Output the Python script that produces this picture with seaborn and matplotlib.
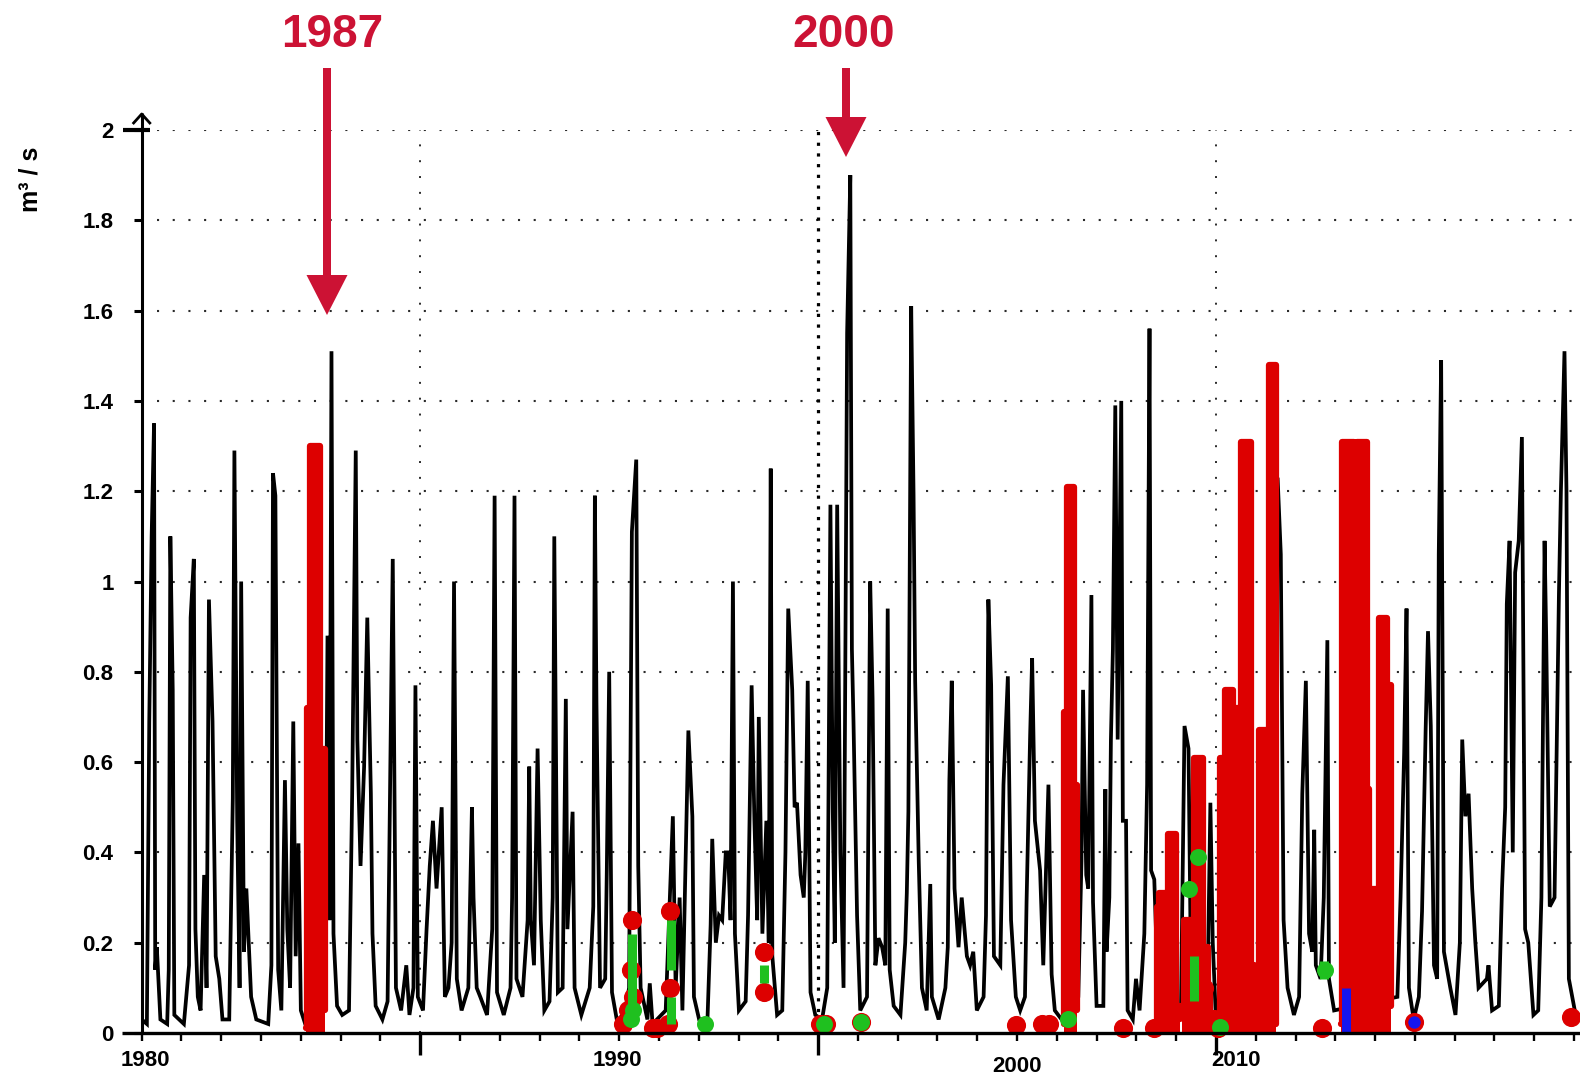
import matplotlib
matplotlib.use("Agg")
import matplotlib.pyplot as plt
import seaborn as sns
import numpy as np
import pandas as pd
from matplotlib.patches import Polygon
from matplotlib.lines import Line2D

# ---------------- data ----------------
flow_1980s = [
    (1980.00, 0.03), (1980.13, 0.02), (1980.19, 0.69), (1980.25, 1.10), (1980.31, 1.35), (1980.34, 0.14),
    (1980.38, 0.19), (1980.47, 0.03), (1980.64, 0.02), (1980.68, 0.14), (1980.72, 1.10), (1980.78, 0.76),
    (1980.82, 0.04), (1981.06, 0.02), (1981.19, 0.15), (1981.23, 0.92), (1981.31, 1.05), (1981.35, 0.23),
    (1981.41, 0.08), (1981.48, 0.05), (1981.57, 0.35), (1981.63, 0.10), (1981.69, 0.96), (1981.78, 0.69),
    (1981.86, 0.17), (1981.95, 0.12), (1982.03, 0.03), (1982.20, 0.03), (1982.29, 0.52), (1982.33, 1.29),
    (1982.40, 0.47), (1982.46, 0.10), (1982.50, 1.00), (1982.57, 0.18), (1982.63, 0.32), (1982.69, 0.20),
    (1982.75, 0.08), (1982.88, 0.03), (1983.18, 0.02), (1983.26, 0.15), (1983.30, 1.24), (1983.36, 1.19),
    (1983.43, 0.14), (1983.51, 0.05), (1983.60, 0.56), (1983.66, 0.23), (1983.73, 0.10), (1983.81, 0.69),
    (1983.87, 0.17), (1983.94, 0.42), (1984.00, 0.05), (1984.11, 0.02), (1984.61, 0.10), (1984.67, 0.88),
    (1984.72, 0.25), (1984.77, 1.51), (1984.82, 0.22), (1984.91, 0.06), (1985.04, 0.04), (1985.21, 0.05),
    (1985.29, 0.53), (1985.38, 1.29), (1985.42, 0.65), (1985.50, 0.37), (1985.59, 0.59), (1985.67, 0.92),
    (1985.76, 0.53), (1985.80, 0.22), (1985.88, 0.06), (1986.05, 0.03), (1986.18, 0.07), (1986.31, 1.05),
    (1986.39, 0.10), (1986.52, 0.05), (1986.65, 0.15), (1986.73, 0.04), (1986.83, 0.10), (1986.88, 0.77),
    (1986.94, 0.08), (1987.07, 0.05), (1987.16, 0.23), (1987.24, 0.37), (1987.32, 0.47), (1987.41, 0.32),
    (1987.54, 0.50), (1987.62, 0.08), (1987.71, 0.10), (1987.79, 0.20), (1987.85, 1.00), (1987.92, 0.12),
    (1988.04, 0.05), (1988.21, 0.10), (1988.30, 0.50), (1988.34, 0.30), (1988.42, 0.10), (1988.51, 0.08),
    (1988.68, 0.04), (1988.81, 0.23), (1988.87, 1.19), (1988.93, 0.09), (1989.10, 0.04), (1989.27, 0.10),
    (1989.31, 0.30), (1989.37, 1.19), (1989.42, 0.12), (1989.57, 0.08), (1989.70, 0.25), (1989.74, 0.59),
    (1989.78, 0.25), (1989.86, 0.15), (1989.95, 0.63), (1990.03, 0.25), (1990.12, 0.05), (1990.25, 0.07),
    (1990.33, 0.30), (1990.37, 1.10), (1990.46, 0.09), (1990.58, 0.10), (1990.66, 0.74), (1990.70, 0.23),
    (1990.83, 0.49), (1990.88, 0.10), (1991.05, 0.04), (1991.26, 0.10), (1991.35, 0.28), (1991.39, 1.19),
    (1991.43, 0.73), (1991.52, 0.10), (1991.65, 0.12), (1991.69, 0.36), (1991.75, 0.80), (1991.82, 0.09),
    (1991.94, 0.03),
]
flow_1990s = [
    (1992.00, 0.03), (1992.15, 0.05), (1992.25, 0.10), (1992.32, 1.11), (1992.43, 1.27), (1992.48, 0.37),
    (1992.54, 0.10), (1992.71, 0.03), (1992.77, 0.11), (1992.84, 0.02), (1993.17, 0.05), (1993.35, 0.48),
    (1993.42, 0.10), (1993.52, 0.30), (1993.59, 0.05), (1993.74, 0.67), (1993.84, 0.48), (1993.88, 0.08),
    (1994.01, 0.03), (1994.22, 0.03), (1994.30, 0.24), (1994.34, 0.43), (1994.43, 0.20), (1994.51, 0.26),
    (1994.59, 0.25), (1994.68, 0.40), (1994.74, 0.40), (1994.80, 0.25), (1994.86, 1.00), (1994.91, 0.22),
    (1995.01, 0.05), (1995.18, 0.07), (1995.24, 0.26), (1995.33, 0.77), (1995.40, 0.47), (1995.47, 0.25),
    (1995.51, 0.70), (1995.60, 0.22), (1995.70, 0.47), (1995.76, 0.20), (1995.81, 1.25), (1995.85, 0.17),
    (1995.97, 0.04), (1996.10, 0.05), (1996.18, 0.40), (1996.25, 0.94), (1996.35, 0.76), (1996.41, 0.50),
    (1996.47, 0.51), (1996.56, 0.35), (1996.64, 0.30), (1996.68, 0.40), (1996.74, 0.78), (1996.81, 0.09),
    (1996.93, 0.04), (1997.10, 0.03), (1997.23, 0.10), (1997.31, 1.17), (1997.37, 0.49), (1997.42, 0.20),
    (1997.48, 1.17), (1997.56, 0.40), (1997.64, 0.10), (1997.73, 1.55), (1997.81, 1.90), (1997.85, 0.85),
    (1997.89, 0.69), (1997.98, 0.26), (1998.06, 0.05), (1998.23, 0.08), (1998.31, 1.00), (1998.37, 0.74),
    (1998.44, 0.15), (1998.52, 0.21), (1998.61, 0.19), (1998.69, 0.15), (1998.75, 0.94), (1998.80, 0.14),
    (1998.90, 0.06), (1999.07, 0.04), (1999.19, 0.20), (1999.23, 0.31), (1999.27, 0.49), (1999.34, 1.61),
    (1999.40, 1.19), (1999.44, 0.78), (1999.53, 0.38), (1999.61, 0.10), (1999.73, 0.05), (1999.82, 0.33),
    (1999.86, 0.08), (2000.03, 0.03), (2000.20, 0.10), (2000.26, 0.19), (2000.30, 0.56), (2000.36, 0.78),
    (2000.43, 0.32), (2000.53, 0.19), (2000.61, 0.30), (2000.74, 0.17), (2000.82, 0.15), (2000.90, 0.18),
    (2000.99, 0.05), (2001.16, 0.08), (2001.22, 0.26), (2001.28, 0.96), (2001.35, 0.77), (2001.42, 0.17),
    (2001.50, 0.16), (2001.58, 0.15), (2001.66, 0.55), (2001.77, 0.79), (2001.85, 0.25), (2001.97, 0.08),
    (2002.08, 0.05), (2002.20, 0.08), (2002.24, 0.29), (2002.33, 0.66), (2002.38, 0.83), (2002.45, 0.47),
    (2002.58, 0.36), (2002.66, 0.15), (2002.79, 0.55), (2002.87, 0.13), (2002.95, 0.05), (2003.12, 0.03),
    (2003.54, 0.08), (2003.62, 0.38), (2003.66, 0.76), (2003.74, 0.35), (2003.79, 0.32), (2003.87, 0.97),
    (2003.91, 0.29), (2004.00, 0.06),
]
flow_2000s = [
    (2004.17, 0.06), (2004.22, 0.54), (2004.25, 0.18), (2004.32, 0.30), (2004.36, 0.65), (2004.41, 0.85),
    (2004.47, 1.39), (2004.53, 0.65), (2004.62, 1.40), (2004.66, 0.47), (2004.74, 0.47), (2004.78, 0.05),
    (2004.91, 0.03), (2004.99, 0.12), (2005.08, 0.05), (2005.20, 0.22), (2005.27, 0.55), (2005.33, 1.56),
    (2005.37, 0.36), (2005.45, 0.34), (2005.54, 0.10), (2006.12, 0.05), (2006.21, 0.68), (2006.31, 0.63),
    (2006.37, 0.15), (2006.62, 0.05), (2006.79, 0.10), (2006.86, 0.51), (2006.92, 0.20), (2007.00, 0.03),
    (2008.46, 0.05), (2008.50, 0.70), (2008.55, 1.23), (2008.63, 1.06), (2008.70, 0.25), (2008.80, 0.10),
    (2008.96, 0.04), (2009.09, 0.08), (2009.17, 0.53), (2009.26, 0.78), (2009.34, 0.22), (2009.42, 0.18),
    (2009.47, 0.45), (2009.51, 0.15), (2009.63, 0.12), (2009.71, 0.30), (2009.80, 0.87), (2009.84, 0.12),
    (2009.97, 0.05), (2011.56, 0.08), (2011.64, 0.30), (2011.73, 0.62), (2011.79, 0.94), (2011.85, 0.10),
    (2011.97, 0.03), (2012.10, 0.08), (2012.18, 0.27), (2012.27, 0.67), (2012.33, 0.89), (2012.40, 0.68),
    (2012.48, 0.15), (2012.56, 0.12), (2012.60, 1.06), (2012.66, 1.49), (2012.73, 0.18), (2012.89, 0.10),
    (2013.02, 0.04), (2013.13, 0.20), (2013.19, 0.65), (2013.27, 0.48), (2013.35, 0.53), (2013.44, 0.32),
    (2013.52, 0.20), (2013.60, 0.10), (2013.81, 0.12), (2013.85, 0.15), (2013.94, 0.05), (2014.11, 0.06),
    (2014.19, 0.32), (2014.27, 0.50), (2014.31, 0.95), (2014.38, 1.09), (2014.46, 0.40), (2014.52, 1.02),
    (2014.61, 1.09), (2014.69, 1.32), (2014.77, 0.23), (2014.85, 0.20), (2014.98, 0.04), (2015.10, 0.05),
    (2015.18, 0.30), (2015.26, 1.09), (2015.30, 0.88), (2015.39, 0.28), (2015.51, 0.30), (2015.62, 0.97),
    (2015.67, 1.20), (2015.76, 1.51), (2015.81, 1.20), (2015.87, 0.12), (2016.04, 0.04), (2016.20, 0.04),
]

# red (flagged) periods
red_1984 = [(1984.14, 0.01), (1984.16, 0.72), (1984.22, 0.72), (1984.23, 1.30), (1984.45, 1.30),
            (1984.47, 0.63), (1984.58, 0.63), (1984.60, 0.05)]
red_2003 = [(2003.17, 0.02), (2003.19, 0.71), (2003.24, 0.71), (2003.25, 1.21), (2003.43, 1.21),
            (2003.44, 0.55), (2003.48, 0.55), (2003.50, 0.05)]
red_2005 = [(2005.50, 0.02), (2005.53, 0.28), (2005.58, 0.31), (2005.75, 0.31), (2005.79, 0.44),
            (2005.95, 0.44), (2005.99, 0.06), (2006.10, 0.03)]
red_2006 = [(2006.15, 0.05), (2006.20, 0.25), (2006.30, 0.25), (2006.37, 0.12), (2006.45, 0.61),
            (2006.66, 0.61), (2006.68, 0.19), (2006.80, 0.10), (2006.85, 0.05)]
red_2007 = [(2007.05, 0.02), (2007.10, 0.61), (2007.20, 0.61), (2007.24, 0.76), (2007.40, 0.76),
            (2007.43, 0.72), (2007.60, 0.72), (2007.63, 1.31), (2007.84, 1.31), (2007.88, 0.15),
            (2007.95, 0.02), (2008.05, 0.02), (2008.08, 0.67), (2008.30, 0.67), (2008.33, 1.48),
            (2008.47, 1.48), (2008.50, 0.02)]
red_2010 = [(2010.14, 0.02), (2010.17, 1.31), (2010.45, 1.31), (2010.47, 0.79), (2010.52, 0.79),
            (2010.55, 1.31), (2010.76, 1.31), (2010.80, 0.54), (2010.85, 0.32), (2011.06, 0.32),
            (2011.10, 0.92), (2011.27, 0.92), (2011.30, 0.77), (2011.36, 0.77), (2011.40, 0.06)]
red_periods = [red_1984, red_2003, red_2005, red_2006, red_2007, red_2010]

red_dot_t = [1992.10, 1992.22, 1992.30, 1992.33, 1992.36, 1992.85, 1992.95, 1993.22, 1993.28, 1993.29,
             1995.64, 1995.64, 1997.05, 1997.20, 1998.07, 2001.97, 2002.62, 2002.80, 2004.66, 2005.45,
             2006.25, 2006.70, 2006.95, 2007.05, 2009.67, 2011.97, 2015.92]
red_dot_q = [0.02, 0.05, 0.14, 0.25, 0.08, 0.01, 0.01, 0.02, 0.10, 0.27,
             0.18, 0.09, 0.02, 0.02, 0.025, 0.017, 0.02, 0.02, 0.01, 0.01,
             0.05, 0.10, 0.03, 0.01, 0.01, 0.025, 0.035]

green_bar_t = [1992.33, 1993.30, 1993.30, 1995.64, 2006.45, 2009.72]
green_bar_lo = [0.03, 0.14, 0.02, 0.11, 0.07, 0.12]
green_bar_hi = [0.22, 0.25, 0.08, 0.15, 0.17, 0.16]
green_dot_t = [1992.30, 1992.35, 1994.16, 1997.15, 1998.07, 2003.27, 2006.32, 2006.55, 2007.10, 2009.73]
green_dot_q = [0.03, 0.05, 0.02, 0.02, 0.025, 0.03, 0.32, 0.39, 0.013, 0.14]

blue_bar_t = [2010.26]
blue_bar_lo = [0.0]
blue_bar_hi = [0.10]
blue_dot_t = [2011.97]
blue_dot_q = [0.025]

y_ticks = [0, 0.2, 0.4, 0.6, 0.8, 1.0, 1.2, 1.4, 1.6, 1.8, 2.0]
y_tick_labels = ["0", "0.2", "0.4", "0.6", "0.8", "1", "1.2", "1.4", "1.6", "1.8", "2"]
year_labels = ["1980", "1990", "2000", "2010"]
year_label_pos = [1980.1, 1991.95, 2002.0, 2007.5]
year_label_drop = [0, 0, 6, 0]
highlight_years = ["1987", "2000"]

# ---------------- style ----------------
sns.set_theme(style="white")
plt.rcParams["font.family"] = ["Liberation Sans", "DejaVu Sans"]
plt.rcParams["lines.scale_dashes"] = False

RED = "#DD0000"
GREEN = "#1FC01F"
BLUE = "#1515EE"
CRIMSON = "#CC1234"

W, H = 1580, 1081
fig = plt.figure(figsize=(W / 100, H / 100), dpi=100)
fig.patch.set_facecolor("white")


def fx(px):
    return px / W


def fy(py):
    return 1 - py / H


X0, XR = 141.7, 1580.0
Y0, Y2 = 1033.0, 130.0
ax = fig.add_axes([fx(X0), fy(Y0), (XR - X0) / W, (Y0 - Y2) / H])
ax.set_xlim(1980, 2016.15)
ax.set_ylim(0, 2)
ax.set_facecolor("white")
for s in ax.spines.values():
    s.set_visible(False)

# grid
for v in y_ticks[1:]:
    ax.axhline(v, xmin=(157 - X0) / (XR - X0), xmax=1, color="#2a2a2a", lw=1.5,
               ls=(0, (1.5, 9.8)), zorder=0.5)
for yr, lw, dash, col in [(1987, 1.4, (0, (1.4, 10.0)), "#2a2a2a"),
                          (1997, 2.3, (0, (2.3, 5.4)), "black"),
                          (2007, 1.4, (0, (1.4, 10.0)), "#2a2a2a")]:
    ax.axvline(yr, ymin=0, ymax=1, color=col, lw=lw, ls=dash, zorder=0.5)

# black hydrograph
flow = pd.DataFrame(flow_1980s + flow_1990s + flow_2000s, columns=["year", "q"])
sns.lineplot(data=flow, x="year", y="q", sort=False, estimator=None, color="black",
             lw=2.7, ax=ax, zorder=2, solid_joinstyle="miter")

# red flagged periods
for seg in red_periods:
    d = pd.DataFrame(seg, columns=["year", "q"])
    ax.fill_between(d["year"], 0, d["q"], color=RED, lw=0, zorder=3, step="post")
    sns.lineplot(data=d, x="year", y="q", sort=False, estimator=None, color=RED,
                 lw=4.5, ax=ax, zorder=3, drawstyle="steps-post")

sns.scatterplot(x=red_dot_t, y=red_dot_q, color=RED, s=190, linewidth=0, ax=ax,
                zorder=4, clip_on=False)
ax.vlines(green_bar_t, green_bar_lo, green_bar_hi, color=GREEN, lw=6.5, zorder=5)
sns.scatterplot(x=green_dot_t, y=green_dot_q, color=GREEN, s=150, linewidth=0, ax=ax,
                zorder=5, clip_on=False)
ax.vlines(blue_bar_t, blue_bar_lo, blue_bar_hi, color=BLUE, lw=6.5, zorder=6)
sns.scatterplot(x=blue_dot_t, y=blue_dot_q, color=BLUE, s=80, linewidth=0, ax=ax,
                zorder=6, clip_on=False)

ax.set_xlabel("")
ax.set_ylabel("")

# ticks
ax.set_yticks(y_ticks)
ax.set_yticklabels(y_tick_labels)
ax.tick_params(axis="y", direction="out", length=5.8, width=2.2, pad=14.5,
               labelsize=16, colors="black", left=True)
for lbl in ax.get_yticklabels():
    lbl.set_fontweight("bold")
ax.set_xticks([1987, 1997, 2007])
ax.set_xticks(list(range(1980, 2017)), minor=True)
ax.tick_params(axis="x", which="major", direction="out", length=16, width=2.4,
               labelbottom=False, bottom=True, colors="black")
ax.tick_params(axis="x", which="minor", direction="out", length=6, width=1.7,
               bottom=True, colors="black")


def fig_line(xs, ys, lw, color="black"):
    fig.add_artist(Line2D([fx(x) for x in xs], [fy(y) for y in ys], lw=lw, color=color,
                          transform=fig.transFigure, solid_capstyle="butt", zorder=10))


# axes lines
fig_line([122, W], [Y0, Y0], 2.4)
fig_line([X0, X0], [Y0 + 1, 113], 2.2)
fig_line([X0 - 9, X0, X0 + 9], [124, 114, 124], 2.0)
fig_line([123, 150], [Y2, Y2], 3.0)

# x labels
for txt, pos, drop in zip(year_labels, year_label_pos, year_label_drop):
    px = X0 + (pos - 1980) / (2016.15 - 1980) * (XR - X0)
    fig.text(fx(px), fy(1060 + drop), txt, ha="center", va="center", fontsize=16,
             fontweight="bold", color="black")

# y label
fig.text(fx(30), fy(179), "m³ / s", rotation=90, ha="center", va="center",
         fontsize=18, fontweight="bold", color="black")

# highlight annotations
for txt, xc, ytip, toff in zip(highlight_years, [327, 846], [315, 157], [5, -2]):
    fig.text(fx(xc + toff), fy(35), txt, ha="center", va="center", fontsize=33,
             fontweight="bold", color=CRIMSON)
    sw, hw, hl, ytop = 8, 41, 40, 68
    pts = [(xc - sw / 2, ytop), (xc + sw / 2, ytop), (xc + sw / 2, ytip - hl),
           (xc + hw / 2, ytip - hl), (xc, ytip), (xc - hw / 2, ytip - hl),
           (xc - sw / 2, ytip - hl)]
    fig.add_artist(Polygon([(fx(a), fy(b)) for a, b in pts], closed=True,
                           facecolor=CRIMSON, edgecolor="none",
                           transform=fig.transFigure, zorder=11))

fig.savefig("out.png", dpi=100, facecolor="white")
